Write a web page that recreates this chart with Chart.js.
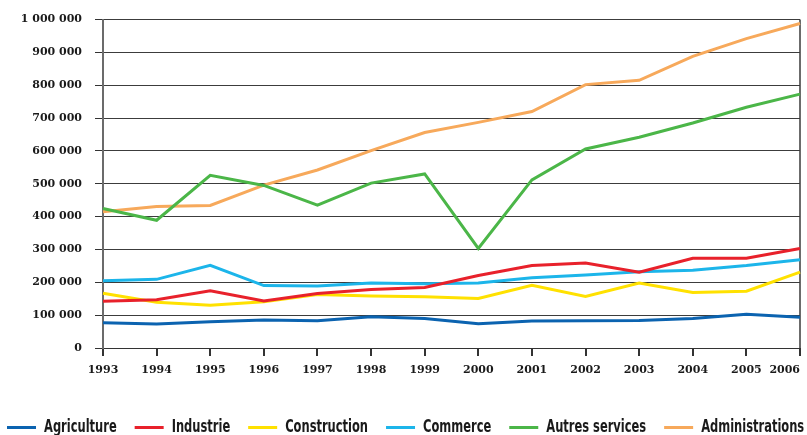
<!DOCTYPE html>
<html>
<head>
<meta charset="utf-8">
<script src="https://cdn.jsdelivr.net/npm/chart.js@4.4.1/dist/chart.umd.min.js"></script>
<style>
  html, body { margin: 0; padding: 0; background: #ffffff; }
  #wrap { width: 807px; height: 435px; }
</style>
</head>
<body>
<div id="wrap"><canvas id="c" width="807" height="435"></canvas></div>
<script>
// Years on the horizontal axis
const years = ['1993','1994','1995','1996','1997','1998','1999','2000','2001','2002','2003','2004','2005','2006'];

// Employment by sector
const agriculture     = [77000, 73000, 80000, 85000, 83000, 95000, 90000, 74000, 82000, 83000, 84000, 90000, 103000, 94000];
const industrie       = [142000, 147000, 174000, 143000, 166000, 178000, 184000, 221000, 251000, 259000, 231000, 273000, 273000, 303000];
const construction    = [167000, 139000, 130000, 141000, 163000, 158000, 156000, 151000, 191000, 157000, 198000, 169000, 173000, 231000];
const commerce        = [205000, 209000, 252000, 190000, 189000, 198000, 196000, 198000, 214000, 222000, 232000, 237000, 251000, 269000];
const autresServices  = [425000, 389000, 526000, 495000, 435000, 502000, 530000, 303000, 512000, 606000, 642000, 685000, 733000, 773000];
const administrations = [415000, 431000, 434000, 496000, 542000, 601000, 656000, 687000, 720000, 802000, 815000, 888000, 942000, 988000];

const seriesNames = ['Agriculture', 'Industrie', 'Construction', 'Commerce', 'Autres services', 'Administrations'];
const seriesColors = ['#0b63b0', '#e8212b', '#ffe100', '#1cb5ea', '#4bb648', '#f7a95b'];
const seriesValues = [agriculture, industrie, construction, commerce, autresServices, administrations];

const yMax = 1000000;
const yStep = 100000;

function spaced(v) {
  return String(v).replace(/\B(?=(\d{3})+(?!\d))/g, ' ');
}

const datasets = seriesNames.map((name, i) => ({
  label: name,
  data: seriesValues[i],
  borderColor: seriesColors[i],
  backgroundColor: seriesColors[i],
  borderWidth: 3,
  pointRadius: 0,
  tension: 0,
  fill: false
}));

const AXIS_LEFT = 103;
const LABEL_FONT = { family: "'DejaVu Serif', serif", weight: 'bold', size: 11 };

// Last year label sits flush against the right frame instead of centred on its tick
const lastLabelFlush = {
  id: 'lastLabelFlush',
  beforeDraw(chart) {
    const items = chart.scales.x.getLabelItems();
    const last = items[items.length - 1];
    if (last) last.options.textAlign = 'right';
  }
};

// Single-row legend in a condensed face along the bottom edge
const bottomLegend = {
  id: 'bottomLegend',
  afterDraw(chart) {
    const ctx = chart.ctx;
    const squeeze = 0.75;
    const sample = 29, gapText = 8, gapItem = 18;
    const baseline = 431.5, lineY = 427.5;
    let x = 7;
    ctx.save();
    ctx.font = "bold 17px 'Liberation Sans Narrow', 'DejaVu Sans Condensed', sans-serif";
    ctx.textBaseline = 'alphabetic';
    ctx.textAlign = 'left';
    chart.data.datasets.forEach(ds => {
      ctx.fillStyle = ds.borderColor;
      ctx.fillRect(x, lineY - 1.5, sample, 3);
      x += sample + gapText;
      ctx.save();
      ctx.translate(x, baseline);
      ctx.scale(squeeze, 1);
      ctx.fillStyle = '#1a1a1a';
      ctx.fillText(ds.label, 0, 0);
      ctx.restore();
      x += ctx.measureText(ds.label).width * squeeze + gapItem;
    });
    ctx.restore();
  }
};

new Chart(document.getElementById('c'), {
  type: 'line',
  data: { labels: years, datasets: datasets },
  plugins: [lastLabelFlush, bottomLegend],
  options: {
    responsive: false,
    animation: false,
    layout: { padding: { top: 19, right: 7, left: 0, bottom: 57 } },
    plugins: {
      tooltip: { enabled: false },
      legend: { display: false }
    },
    scales: {
      x: {
        offset: false,
        grid: {
          color: ctx => (ctx.index === years.length - 1 ? '#6b6b6b' : 'rgba(0,0,0,0)'),
          lineWidth: 2,
          tickColor: '#333333',
          tickLength: 8,
          drawTicks: true
        },
        border: { display: true, color: '#333333', width: 1 },
        ticks: {
          color: '#1a1a1a',
          font: LABEL_FONT,
          padding: 8,
          maxRotation: 0,
          autoSkip: false
        },
        afterFit(scale) {
          scale.paddingLeft = 0;
          scale.paddingRight = 0;
          scale.height = 30;
        }
      },
      y: {
        min: 0,
        max: yMax,
        grid: {
          color: '#3c3c3c',
          lineWidth: 1,
          tickColor: '#333333',
          tickLength: 8,
          drawTicks: true
        },
        border: { display: true, color: '#6b6b6b', width: 2 },
        ticks: {
          stepSize: yStep,
          color: '#1a1a1a',
          font: LABEL_FONT,
          padding: 13,
          callback: v => spaced(v)
        },
        afterFit(scale) {
          scale.width = AXIS_LEFT;
        }
      }
    }
  }
});
</script>
</body>
</html>
